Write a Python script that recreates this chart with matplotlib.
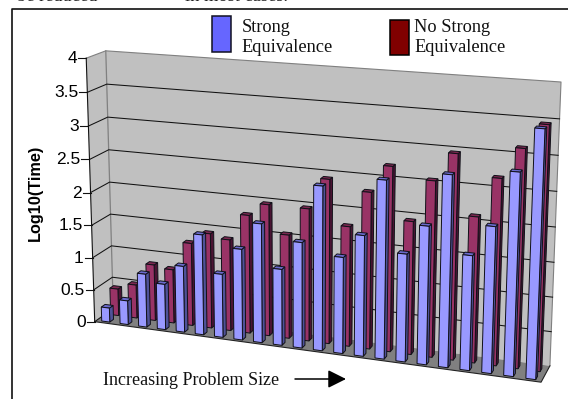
import numpy as np
import matplotlib
matplotlib.use("Agg")
import matplotlib.pyplot as plt
from matplotlib.patches import Polygon, Rectangle

strong = [0.22, 0.37, 0.82, 0.70, 1.01, 1.52, 0.96, 1.37, 1.78, 1.14, 1.57,
          2.42, 1.42, 1.77, 2.59, 1.57, 2.00, 2.75, 1.65, 2.09, 2.87, 3.48]
no_strong = [0.42, 0.52, 0.87, 0.83, 1.27, 1.45, 1.39, 1.79, 1.98, 1.56, 1.98,
             2.44, 1.78, 2.31, 2.71, 1.95, 2.56, 2.97, 2.11, 2.68, 3.12, 3.47]
ticks = [0, 0.5, 1, 1.5, 2, 2.5, 3, 3.5, 4]
tick_labels = ["0", "0.5", "1", "1.5", "2", "2.5", "3", "3.5", "4"]
n = len(strong)

# perspective camera fitted to the plot box corners: (x, depth, value) -> pixel
world = np.array([[0, 0, 0], [n, 0, 0], [0, 1, 0], [n, 1, 0],
                  [0, 0, 4], [0, 1, 4], [n, 1, 4]], float)
pix = np.array([[95, 322], [541, 382], [113, 308], [550, 366],
                [86, 58], [106, 51], [561, 82]], float)
A = []
for (X, Y, Z), (u, v) in zip(world, pix):
    p = [X, Y, Z, 1]
    A.append(p + [0, 0, 0, 0] + [-u * c for c in p])
    A.append([0, 0, 0, 0] + p + [-v * c for c in p])
M = np.linalg.svd(np.array(A))[2][-1].reshape(3, 4)


def P(x, d, v):
    q = M @ np.array([x, d, v, 1.0])
    return (q[0] / q[2], q[1] / q[2])


fig = plt.figure(figsize=(5.68, 3.99), dpi=100)
ax = fig.add_axes([0, 0, 1, 1])
ax.set_xlim(0, 568)
ax.set_ylim(399, 0)
ax.axis("off")
SANS = "Liberation Sans"
SERIF = "Liberation Serif"

# outer frame
ax.plot([12, 12, 568], [399, 9, 9], color="#111111", lw=1.2, zorder=1)

# walls and floor
ax.add_patch(Polygon([P(0, 0, 0), P(0, 1, 0), P(n, 1, 0), P(n, 1, 4), P(0, 1, 4), P(0, 0, 4)],
                     fc="#C0C0C0", ec="none", zorder=2))
ax.add_patch(Polygon([P(0, 0, 0), P(n, 0, 0), P(n, 1, 0), P(0, 1, 0)],
                     fc="#808080", ec="none", zorder=3))
ax.plot(*zip(P(0, 0, 4), P(0, 1, 4), P(n, 1, 4), P(n, 1, 0)), color="#808080", lw=0.8, zorder=3)
ax.plot(*zip(P(0, 1, 4), P(0, 1, 0)), color="#808080", lw=0.9, zorder=3)
ax.plot(*zip(P(0, 0, 0), P(n, 0, 0), P(n, 1, 0)), color="#222222", lw=0.8, zorder=4)
for t in ticks[1:-1]:
    ax.plot(*zip(P(0, 0, t), P(0, 1, t), P(n, 1, t)), color="#111111", lw=0.75, zorder=3)
ax.plot(*zip(P(0, 0, 0), P(0, 1, 0)), color="#111111", lw=0.75, zorder=4)
ax.plot(*zip(P(0, 0, 0), P(0, 0, 4)), color="#111111", lw=0.8, zorder=4)

# y ticks
for t, lab in zip(ticks, tick_labels):
    x, y = P(0, 0, t)
    ax.plot([x - 8, x], [y, y], color="#111111", lw=0.8, zorder=4)
    ax.text(x - 9, y + 0.5, lab, ha="right", va="center", family=SANS, fontsize=12.5, color="black")
ax.text(35, 193, "Log10(Time)", rotation=90, ha="center", va="center",
        family=SANS, fontsize=11.7, fontweight="bold")


def bar(i, d0, d1, val, front, side, top, z):
    x0, x1 = i + 0.28, i + 0.72
    ec = "#101018"
    lw = 0.7
    ax.add_patch(Polygon([P(x1, d0, 0), P(x1, d1, 0), P(x1, d1, val), P(x1, d0, val)],
                         fc=side, ec=ec, lw=lw, zorder=z))
    ax.add_patch(Polygon([P(x0, d0, val), P(x1, d0, val), P(x1, d1, val), P(x0, d1, val)],
                         fc=top, ec=ec, lw=lw, zorder=z))
    ax.add_patch(Polygon([P(x0, d0, 0), P(x1, d0, 0), P(x1, d0, val), P(x0, d0, val)],
                         fc=front, ec=ec, lw=lw, zorder=z))


for i in range(n - 1, -1, -1):
    z = 5 + (n - i) * 0.01
    bar(i, 0.58, 0.78, no_strong[i], "#993366", "#4A1433", "#7A2850", z)
for i in range(n - 1, -1, -1):
    z = 6 + (n - i) * 0.01
    bar(i, 0.10, 0.30, strong[i], "#9999FF", "#4F5299", "#6A6ACC", z)

# legend
ax.add_patch(Rectangle((212, 16), 19, 36, fc="#6666FF", ec="#111122", lw=1.1, zorder=8))
ax.add_patch(Rectangle((390, 19.5), 19, 35, fc="#800000", ec="black", lw=1.1, zorder=8))
clip = Rectangle((0, 0), 568, 53.5, transform=ax.transData)
for x, a, b in [(241.5, "Strong", "Equivalence"), (414.5, "No Strong", "Equivalence")]:
    ax.text(x, 32, a, family=SERIF, fontsize=13.2, va="baseline", color="#111111", zorder=9)
    t = ax.text(x, 52.5, b, family=SERIF, fontsize=13.2, va="baseline", color="#111111", zorder=9)
    t.set_clip_path(clip)

# cut-off running text above the chart
ax.text(17, 1, "be reduced", family=SERIF, fontsize=13.2, va="baseline", color="#222222")
ax.text(185, 1, "in most cases.", family=SERIF, fontsize=13.2, va="baseline", color="#222222")

# annotation
ax.text(103, 385, "Increasing Problem Size", family=SERIF, fontsize=13, va="baseline", color="#111111")
ax.annotate("", xy=(346, 379), xytext=(295, 379),
            arrowprops=dict(arrowstyle="-|>,head_length=1.1,head_width=0.55", color="black", lw=1.1,
                            shrinkA=0, shrinkB=0))

fig.savefig("out.png", dpi=100)
